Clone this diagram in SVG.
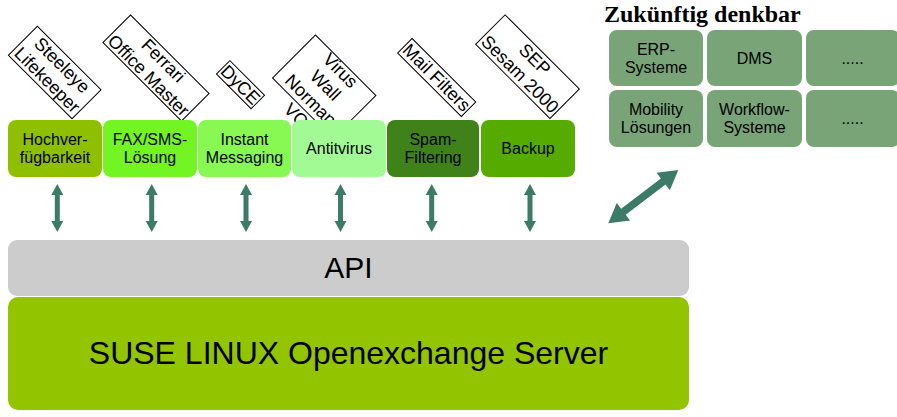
<svg xmlns="http://www.w3.org/2000/svg" width="897" height="417" viewBox="0 0 897 417">
<defs>
<style>
.sans{font-family:"Liberation Sans",Arial,sans-serif;fill:#000}
.mod{font-size:16px;text-anchor:middle}
.lbl{font-size:18px;text-anchor:middle}
.lbox{fill:#fff;stroke:#000;stroke-width:1}
.grid{fill:#78a478}
.arr{fill:#3b7b68}
</style>
<path id="varrow" d="M0,-24 L6,-13 L2.5,-13 L2.5,13 L6,13 L0,24 L-6,13 L-2.5,13 L-2.5,-13 L-6,-13 Z"/>
</defs>
<rect width="897" height="417" fill="#fff"/>

<!-- rotated product labels -->
<g id="label-steeleye" transform="translate(54.7,72.5) rotate(45)">
<rect class="lbox" x="-45" y="-20.5" width="90" height="41"/>
<text class="sans lbl" x="0" y="-4.3">Steeleye</text>
<text class="sans lbl" x="0" y="16.7">Lifekeeper</text>
</g>
<g id="label-ferrari" transform="translate(156,68) rotate(45)">
<rect class="lbox" x="-55.5" y="-19.5" width="111" height="39"/>
<text class="sans lbl" x="0" y="-4.3">Ferrari</text>
<text class="sans lbl" x="0" y="16.7">Office Master</text>
</g>
<g id="label-dyce" transform="translate(240.5,84.7) rotate(45)">
<rect class="lbox" x="-24.5" y="-9.5" width="49" height="19"/>
<text class="sans lbl" x="0" y="6.2">DyCE</text>
</g>
<g id="label-virus" transform="translate(324.2,86.7) rotate(45)">
<rect class="lbox" x="-42.7" y="-30.35" width="85.4" height="60.7"/>
<text class="sans lbl" x="0" y="-16.8">Virus</text>
<text class="sans lbl" x="0" y="4.2">Wall</text>
<text class="sans lbl" x="0" y="25.2">Norman</text>
<text class="sans lbl" x="0" y="46.2">VC</text>
</g>
<g id="label-mail" transform="translate(436.7,77.5) rotate(45)">
<rect class="lbox" x="-45" y="-10.2" width="90" height="20.4"/>
<text class="sans lbl" x="0" y="6.2">Mail Filters</text>
</g>
<g id="label-sep" transform="translate(527.5,66.7) rotate(45)">
<rect class="lbox" x="-52.5" y="-20.8" width="105" height="41.6"/>
<text class="sans lbl" x="0" y="-4.3">SEP</text>
<text class="sans lbl" x="0" y="16.7">Sesam 2000</text>
</g>

<!-- module boxes -->
<g id="mod-hochverfuegbarkeit">
<rect x="8" y="120" width="94" height="57" rx="8" fill="#8fc000"/>
<text class="sans mod" x="55" y="145">Hochver-</text>
<text class="sans mod" x="55" y="163">fügbarkeit</text>
</g>
<g id="mod-fax">
<rect x="103" y="120" width="94" height="57" rx="8" fill="#72f522"/>
<text class="sans mod" x="150" y="145">FAX/SMS-</text>
<text class="sans mod" x="150" y="163">Lösung</text>
</g>
<g id="mod-instant">
<rect x="198" y="120" width="93" height="57" rx="8" fill="#88f852"/>
<text class="sans mod" x="244.5" y="145">Instant</text>
<text class="sans mod" x="244.5" y="163">Messaging</text>
</g>
<g id="mod-antivirus">
<rect x="292" y="120" width="94" height="57" rx="8" fill="#a2fa94"/>
<text class="sans mod" x="339" y="154">Antitvirus</text>
</g>
<g id="mod-spam">
<rect x="387" y="120" width="92" height="57" rx="8" fill="#3f821a"/>
<text class="sans mod" x="433" y="145">Spam-</text>
<text class="sans mod" x="433" y="163">Filtering</text>
</g>
<g id="mod-backup">
<rect x="481" y="120" width="94" height="57" rx="8" fill="#55ab00"/>
<text class="sans mod" x="528" y="154">Backup</text>
</g>

<!-- API and server -->
<g id="api">
<rect x="8" y="240" width="681" height="56" rx="9" fill="#cccccc"/>
<text class="sans" x="348.5" y="278" font-size="30" text-anchor="middle">API</text>
</g>
<g id="server">
<rect x="8" y="297" width="681" height="113" rx="10" fill="#92c400"/>
<text class="sans" x="348.5" y="363.5" font-size="32" text-anchor="middle">SUSE LINUX Openexchange Server</text>
</g>

<!-- future panel -->
<g id="future-title">
<text x="604" y="21.7" font-family="'Liberation Serif','Times New Roman',serif" font-weight="bold" font-size="24">Zukünftig denkbar</text>
</g>
<g id="future-erp">
<rect class="grid" x="609" y="30" width="94" height="56" rx="8"/>
<text class="sans mod" x="656" y="54.5">ERP-</text>
<text class="sans mod" x="656" y="72.5">Systeme</text>
</g>
<g id="future-dms">
<rect class="grid" x="707" y="30" width="95" height="56" rx="8"/>
<text class="sans mod" x="754.5" y="63.5">DMS</text>
</g>
<g id="future-more1">
<rect class="grid" x="806" y="30" width="94" height="56" rx="8"/>
<text class="sans mod" x="852.5" y="63.5">.....</text>
</g>
<g id="future-mobility">
<rect class="grid" x="609" y="90" width="94" height="57" rx="8"/>
<text class="sans mod" x="656" y="115">Mobility</text>
<text class="sans mod" x="656" y="133">Lösungen</text>
</g>
<g id="future-workflow">
<rect class="grid" x="707" y="90" width="95" height="57" rx="8"/>
<text class="sans mod" x="754.5" y="115">Workflow-</text>
<text class="sans mod" x="754.5" y="133">Systeme</text>
</g>
<g id="future-more2">
<rect class="grid" x="806" y="90" width="94" height="57" rx="8"/>
<text class="sans mod" x="852.5" y="124">.....</text>
</g>

<!-- connectors -->
<g id="connectors" class="arr">
<use href="#varrow" transform="translate(57.3,208)"/>
<use href="#varrow" transform="translate(151.7,208)"/>
<use href="#varrow" transform="translate(246,208)"/>
<use href="#varrow" transform="translate(340.5,208)"/>
<use href="#varrow" transform="translate(431.7,208)"/>
<use href="#varrow" transform="translate(530,208)"/>
<path transform="translate(643.3,196.7) rotate(-37.3)" d="M-44,0 L-25,-11 L-25,-3.8 L25,-3.8 L25,-11 L44,0 L25,11 L25,3.8 L-25,3.8 L-25,11 Z"/>
</g>
</svg>
